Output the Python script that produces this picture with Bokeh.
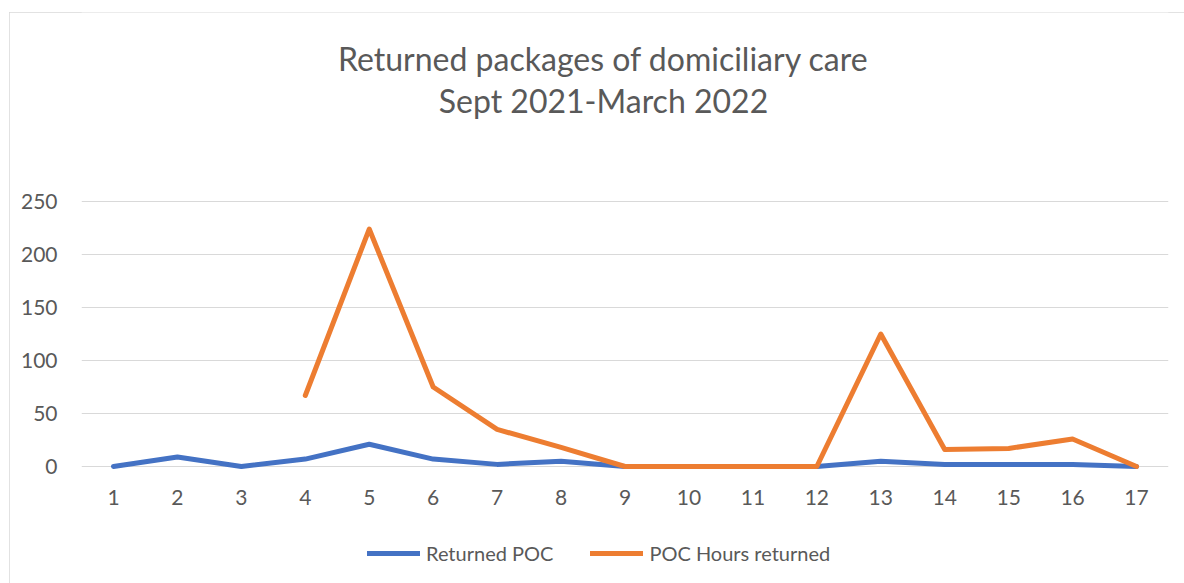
from bokeh.plotting import figure
from bokeh.models import Range1d, Label, Legend, LegendItem, FixedTicker
from bokeh.core.properties import value
from bokeh.embed import file_html
from bokeh.resources import INLINE

months = list(range(1, 18))
month_labels = [str(m) for m in months]
returned_poc = [0, 9, 0, 7, 21, 7, 2, 5, 0, 0, 0, 0, 5, 2, 2, 2, 0]
poc_hours = [float("nan"), float("nan"), float("nan"), 67, 224, 75, 35, 18, 0, 0, 0, 0, 125, 16, 17, 26, 0]
y_ticks = [0, 50, 100, 150, 200, 250]
title_lines = ["Returned packages of domiciliary care", "Sept 2021-March 2022"]
series_names = ["Returned POC", "POC Hours returned"]

FONT = "Lato"
W, H = 1175, 571
PX_PER_UNIT = 1.06
ZERO_Y = 454  # pixel row of value 0, from figure top

p = figure(width=W, height=H, output_backend="svg", toolbar_location=None,
           x_range=Range1d(0.5, 17.5),
           y_range=Range1d(-(H - ZERO_Y) / PX_PER_UNIT, ZERO_Y / PX_PER_UNIT),
           min_border_left=72, min_border_right=16, min_border_top=0, min_border_bottom=0)
p.styles = {"margin-left": "9px", "margin-top": "12px",
            "box-shadow": "inset 1px 1px 0 0 #d9d9d9"}
p.outline_line_color = None
p.xgrid.grid_line_color = None
p.ygrid.grid_line_color = "#d9d9d9"
p.ygrid.grid_line_width = 1
p.yaxis.ticker = FixedTicker(ticks=y_ticks)
p.xaxis.visible = False
ax = p.yaxis[0]
ax.axis_line_color = None
ax.major_tick_line_color = None
ax.minor_tick_line_color = None
ax.major_label_text_font = FONT
ax.major_label_text_font_size = "21px"
ax.major_label_text_color = "#595959"
ax.major_label_standoff = 18

# category (x) tick labels, placed through the data scales below the zero line
p.text(x=months, y=[-29.5] * len(months), text=month_labels,
       text_align="center", text_baseline="middle",
       text_font=value(FONT), text_font_size="21px", text_color="#595959")

r1 = p.line(months, returned_poc, line_color="#4472C4", line_width=5,
            line_join="round", line_cap="round")
r2 = p.line(months, poc_hours, line_color="#ED7D31", line_width=5,
            line_join="round", line_cap="round")

legend = Legend(items=[LegendItem(label=series_names[0], renderers=[r1]),
                       LegendItem(label=series_names[1], renderers=[r2])],
                orientation="horizontal", location=(286, 18),
                glyph_width=53, glyph_height=20, label_standoff=6, spacing=37,
                padding=0, margin=0, border_line_color=None,
                label_text_font=FONT, label_text_font_size="20px",
                label_text_color="#595959", background_fill_alpha=0)
p.add_layout(legend, "center")

for txt, yy in zip(title_lines, [525, 483]):
    p.add_layout(Label(x=522, y=yy, x_units="screen", y_units="screen", text=txt,
                       text_align="center", text_baseline="middle",
                       text_font=FONT, text_font_size="32px",
                       text_color="#595959"))

open("out.html", "w").write(file_html(p, INLINE))
